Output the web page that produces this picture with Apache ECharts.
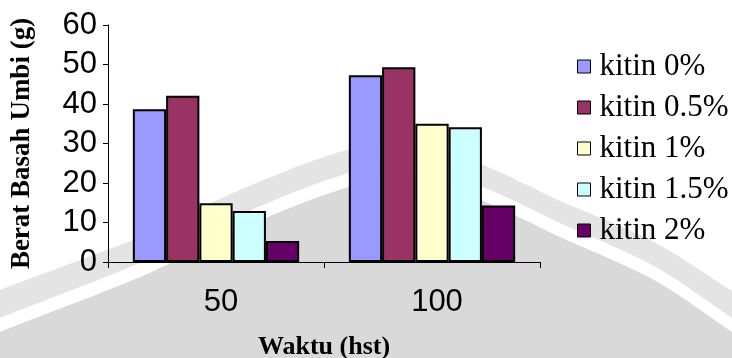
<!DOCTYPE html>
<html>
<head>
<meta charset="utf-8">
<script src="https://cdn.jsdelivr.net/npm/echarts@6/dist/echarts.min.js"></script>
<style>
  html, body { margin: 0; padding: 0; background: #fff; }
  #chart { width: 732px; height: 358px; }
</style>
</head>
<body>
<div id="chart"></div>
<script>
// Harvest time categories (days after planting) and fresh tuber weight per chitin dose
const categories = ['50', '100'];
const seriesNames = ['kitin 0%', 'kitin 0.5%', 'kitin 1%', 'kitin 1.5%', 'kitin 2%'];
const kitin0 = [38.7, 47.3];
const kitin05 = [42.1, 49.3];
const kitin1 = [14.9, 35.0];
const kitin15 = [12.9, 34.1];
const kitin2 = [5.3, 14.3];
const yMin = 0;
const yMax = 60;
const yStep = 10;

const seriesValues = [kitin0, kitin05, kitin1, kitin15, kitin2];
const seriesColors = ['#9999FF', '#993366', '#FFFFCC', '#CCFFFF', '#660066'];

// Decorative backdrop: a light grey arc swoosh behind the plot
const swooshLine = [[-40, 345], [0, 325], [140, 270], [233, 225], [333, 185], [410, 168],
                    [490, 197], [560, 230], [654, 273], [732, 325], [772, 350]];
const swooshOuter = [30, 28, 26, 25, 24, 22, 22, 22, 24, 27, 28];

function spline(pts, offsets, steps) {
  const out = [];
  const n = pts.length;
  for (let i = 0; i < n - 1; i++) {
    const p0 = pts[Math.max(i - 1, 0)], p1 = pts[i], p2 = pts[i + 1], p3 = pts[Math.min(i + 2, n - 1)];
    const o1 = offsets[i], o2 = offsets[i + 1];
    for (let s = 0; s < steps; s++) {
      const t = s / steps, t2 = t * t, t3 = t2 * t;
      const x = 0.5 * ((2 * p1[0]) + (-p0[0] + p2[0]) * t + (2 * p0[0] - 5 * p1[0] + 4 * p2[0] - p3[0]) * t2 + (-p0[0] + 3 * p1[0] - 3 * p2[0] + p3[0]) * t3);
      const y = 0.5 * ((2 * p1[1]) + (-p0[1] + p2[1]) * t + (2 * p0[1] - 5 * p1[1] + 4 * p2[1] - p3[1]) * t2 + (-p0[1] + 3 * p1[1] - 3 * p2[1] + p3[1]) * t3);
      out.push([x, y + o1 + (o2 - o1) * t]);
    }
  }
  const last = pts[n - 1];
  out.push([last[0], last[1] + offsets[n - 1]]);
  return out;
}

function band(offsets, color, z) {
  const top = spline(swooshLine, offsets, 12);
  return {
    type: 'polygon',
    silent: true,
    z: z,
    shape: { points: top.concat([[820, 460], [-80, 460]]) },
    style: { fill: color }
  };
}

const chart = echarts.init(document.getElementById('chart'), null, { renderer: 'canvas' });

const option = {
  animation: false,
  backgroundColor: '#ffffff',
  graphic: [
    band(swooshOuter.map(v => -7 - v), '#e4e4e4', -30),
    band(swooshOuter.map(() => -7), '#ffffff', -29),
    band(swooshOuter.map(() => 7), '#d9d9d9', -28)
  ],
  grid: {
    left: 108,
    right: 192,
    top: 25,
    bottom: 96,
    containLabel: false,
    outerBoundsMode: 'none'
  },
  legend: {
    orient: 'vertical',
    left: 572,
    top: 46,
    itemWidth: 13,
    itemHeight: 13,
    itemGap: 10,
    icon: 'rect',
    itemStyle: { borderColor: '#000', borderWidth: 1 },
    textStyle: {
      fontFamily: 'Liberation Serif',
      fontSize: 31,
      lineHeight: 31,
      color: '#000',
      padding: [0, 0, 0, 4]
    },
    data: seriesNames
  },
  xAxis: {
    type: 'category',
    data: categories,
    name: 'Waktu (hst)',
    nameLocation: 'middle',
    nameGap: 72,
    nameMoveOverlap: false,
    nameTextStyle: {
      fontFamily: 'Liberation Serif',
      fontWeight: 'bold',
      fontSize: 26,
      color: '#000'
    },
    axisLine: { show: true, lineStyle: { color: '#000', width: 1 } },
    axisTick: { show: true, length: 6, interval: 0, lineStyle: { color: '#000' } },
    axisLabel: {
      fontFamily: 'Liberation Sans',
      fontSize: 31,
      color: '#000',
      margin: 25,
      padding: [0, 0, 0, 10]
    },
    splitLine: { show: false }
  },
  yAxis: {
    type: 'value',
    min: yMin,
    max: yMax,
    interval: yStep,
    name: 'Berat Basah Umbi (g)',
    nameLocation: 'middle',
    nameRotate: 90,
    nameGap: 72,
    nameMoveOverlap: false,
    nameTextStyle: {
      fontFamily: 'Liberation Serif',
      fontWeight: 'bold',
      fontSize: 27,
      color: '#000'
    },
    axisLine: { show: true, lineStyle: { color: '#000', width: 1 } },
    axisTick: { show: true, length: 5, lineStyle: { color: '#000' } },
    axisLabel: {
      fontFamily: 'Liberation Sans',
      fontSize: 31,
      color: '#000',
      margin: 11
    },
    splitLine: { show: false }
  },
  series: seriesNames.map((name, i) => ({
    type: 'bar',
    name: name,
    data: seriesValues[i],
    barGap: '0%',
    barCategoryGap: '23%',
    itemStyle: {
      color: seriesColors[i],
      borderColor: '#000',
      borderWidth: 2
    }
  }))
};

chart.setOption(option);
</script>
</body>
</html>
